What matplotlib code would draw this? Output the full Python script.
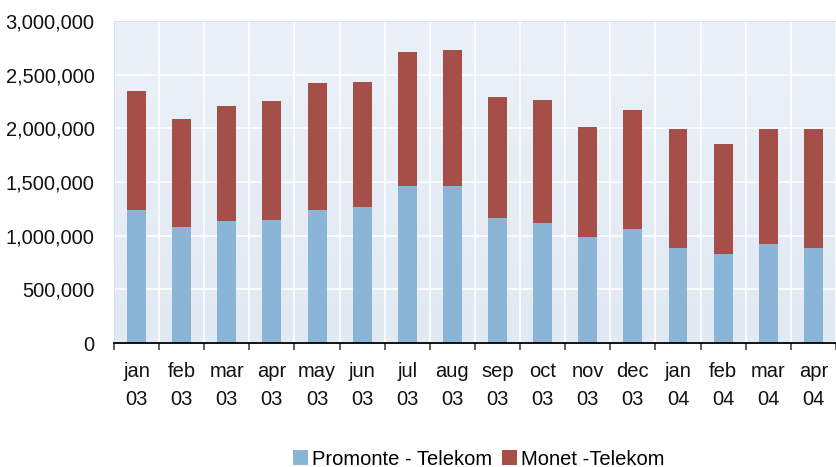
import matplotlib
matplotlib.use('Agg')
import matplotlib.pyplot as plt
import numpy as np
from matplotlib.ticker import FuncFormatter
from matplotlib.colors import LinearSegmentedColormap

months = ['jan\n03', 'feb\n03', 'mar\n03', 'apr\n03', 'may\n03', 'jun\n03',
          'jul\n03', 'aug\n03', 'sep\n03', 'oct\n03', 'nov\n03', 'dec\n03',
          'jan\n04', 'feb\n04', 'mar\n04', 'apr\n04']
promonte = [1241000, 1083000, 1139000, 1148000, 1241000, 1269000, 1464000, 1464000,
            1167000, 1120000, 990000, 1064000, 887000, 832000, 925000, 887000]
total = [2349000, 2088000, 2209000, 2256000, 2423000, 2432000, 2712000, 2730000,
         2293000, 2265000, 2014000, 2172000, 1995000, 1855000, 1995000, 1995000]
monet = [t - p for t, p in zip(total, promonte)]

plt.rcParams['font.family'] = ['Liberation Sans', 'DejaVu Sans']

fig = plt.figure(figsize=(8.37, 4.67), dpi=100)
ax = fig.add_axes([0.1362, 0.2655, 0.8625, 0.6895])

x = np.arange(len(months))
ax.set_xlim(-0.5, len(months) - 0.5)
ax.set_ylim(0, 3000000)

# gradient background
cmap = LinearSegmentedColormap.from_list('bg', ['#E1E9F3', '#EBF1F8'])
ax.imshow(np.linspace(0, 1, 256).reshape(-1, 1), cmap=cmap, aspect='auto',
          extent=(-0.5, len(months) - 0.5, 3000000, 0), zorder=0)

ax.bar(x, promonte, width=0.42, color='#8BB5D7', label='Promonte - Telekom', zorder=3)
ax.bar(x, monet, width=0.42, bottom=promonte, color='#A64E48', label='Monet -Telekom', zorder=3)

ax.set_yticks(np.arange(0, 3000001, 500000))
ax.yaxis.set_major_formatter(FuncFormatter(lambda v, p: f'{int(v):,}'))
ax.tick_params(axis='y', length=0, pad=14, labelsize=14.5, labelcolor='#111111')

ax.set_xticks(x)
ax.set_xticklabels(months, linespacing=1.6)
ax.set_xticks(np.arange(-0.5, len(months), 1), minor=True)
ax.tick_params(axis='x', which='major', length=0, pad=14, labelsize=14.5, labelcolor='#111111')
ax.tick_params(axis='x', which='minor', length=5, width=1.2, color='#444444', direction='out')

ax.grid(True, which='major', axis='y', color='white', linewidth=1.2, zorder=1)
ax.grid(True, which='minor', axis='x', color='white', linewidth=1.2, zorder=1)
ax.set_axisbelow(True)

ax.spines['right'].set_visible(False)
ax.spines['top'].set_color('#D5E1EF')
ax.spines['left'].set_color('#D5E1EF')
ax.spines['bottom'].set_color('black')
ax.spines['bottom'].set_linewidth(1.3)
ax.spines['bottom'].set_zorder(4)

fig.legend(loc='center', bbox_to_anchor=(0.572, 0.017), ncol=2, frameon=False,
           fontsize=14.5, handlelength=0.75, handleheight=0.75, handletextpad=0.2,
           columnspacing=0.5, borderpad=0)

fig.savefig('out.png', dpi=100)
